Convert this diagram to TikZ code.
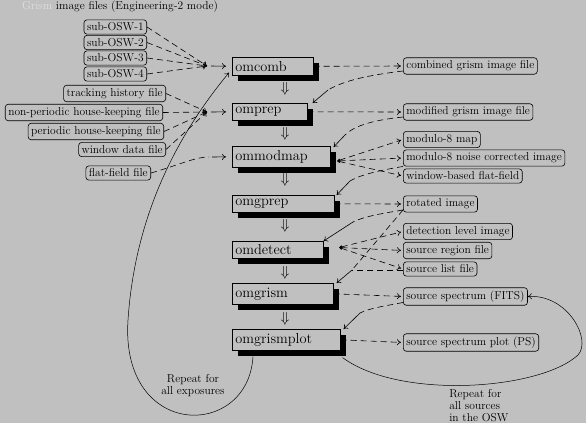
\documentclass[tikz,border=0pt]{standalone}
\usetikzlibrary{shadows,arrows.meta,calc}
\definecolor{bg}{RGB}{192,192,192}
\definecolor{faint}{RGB}{224,224,224}
\begin{document}
\begin{tikzpicture}[x=1pt,y=-1pt,line width=0.6pt,>={To[length=4pt,width=6pt]},
  prog/.style={draw, fill=bg, anchor=north west, inner sep=3pt, align=left,
    font=\fontsize{14.4}{16}\selectfont,
    drop shadow={shadow xshift=6pt, shadow yshift=-6pt, fill=black, opacity=1}},
  filebox/.style={draw, rounded corners=3pt, inner sep=3pt, font=\fontsize{11.5}{13}\selectfont},
  lbl/.style={font=\fontsize{11.5}{12}\selectfont, inner sep=0pt},
  dsh/.style={dash pattern=on 6pt off 4pt},
  flow/.style={inner sep=0pt, font=\fontsize{14.4}{16}\selectfont},
  tail/.style={{Latex[length=3pt,width=3.5pt]}->}
]
\fill[bg] (0,0) rectangle (586,423);
\useasboundingbox (0,0) rectangle (586,423);

% title
\node[lbl] (title) at (120,7) {\textcolor{faint}{Grism} image files (Engineering-2 mode)};

% program nodes
\node[prog, text width=75pt, minimum height=18pt] (omcomb) at (232,57) {omcomb};
\node[prog, text width=69pt, minimum height=17pt] (omprep) at (232,103) {omprep};
\node[prog, text width=92pt, minimum height=21pt] (ommodmap) at (232,146) {ommodmap};
\node[prog, text width=96pt, minimum height=17pt] (omgprep) at (232,195) {omgprep};
\node[prog, text width=85pt, minimum height=17pt] (omdetect) at (232,241) {omdetect};
\node[prog, text width=95pt, minimum height=21pt] (omgrism) at (232,283) {omgrism};
\node[prog, text width=102pt, minimum height=21pt] (omgrismplot) at (232,329) {omgrismplot};

% flow arrows between programs
\node[flow] (d1) at (285,89) {$\Downarrow$};
\node[flow] (d2) at (285,134) {$\Downarrow$};
\node[flow] (d3) at (285,180) {$\Downarrow$};
\node[flow] (d4) at (285,226) {$\Downarrow$};
\node[flow] (d5) at (285,273) {$\Downarrow$};
\node[flow] (d6) at (285,319) {$\Downarrow$};

% left input files
\node[filebox, anchor=east] (s1) at (147,27) {sub-OSW-1};
\node[filebox, anchor=east] (s2) at (147,42.5) {sub-OSW-2};
\node[filebox, anchor=east] (s3) at (147,58) {sub-OSW-3};
\node[filebox, anchor=east] (s4) at (147,74) {sub-OSW-4};
\node[filebox, anchor=east] (track) at (166,93.5) {tracking history file};
\node[filebox, anchor=east] (nonper) at (163,112.5) {non-periodic house-keeping file};
\node[filebox, anchor=east] (per) at (164,131.5) {periodic house-keeping file};
\node[filebox, anchor=east] (win) at (166,149.5) {window data file};
\node[filebox, anchor=east] (flat) at (151,173) {flat-field file};

% right output files
\node[filebox, anchor=west] (cgif) at (403,66) {combined grism image file};
\node[filebox, anchor=west] (mgif) at (403,112) {modified grism image file};
\node[filebox, anchor=west] (m8m) at (403,139.5) {modulo-8 map};
\node[filebox, anchor=west] (mnci) at (403,158) {modulo-8 noise corrected image};
\node[filebox, anchor=west] (wbff) at (403,176) {window-based flat-field};
\node[filebox, anchor=west] (rot) at (403,204) {rotated image};
\node[filebox, anchor=west] (dli) at (403,231.5) {detection level image};
\node[filebox, anchor=west] (srf) at (403,250.5) {source region file};
\node[filebox, anchor=west] (slf) at (403,269) {source list file};
\node[filebox, anchor=west] (fits) at (403,296.5) {source spectrum (FITS)};
\node[filebox, anchor=west] (ps) at (403,342.5) {source spectrum plot (PS)};

% loop labels
\node[lbl, align=center] (rep1) at (193,386) {Repeat for\\all exposures};
\node[lbl, align=left, anchor=north west] (rep2) at (449,389) {Repeat for\\all sources\\in the OSW};

% junction coordinates
\coordinate (j1) at (207,66);
\coordinate (j2) at (207,112);
\coordinate (j3) at (209,157);
\coordinate (k1) at (328,90);
\coordinate (k2) at (345,135);
\coordinate (k3) at (350,181);
\coordinate (k4) at (353,222);
\coordinate (k5) at (352,270);
\coordinate (k6) at (360,313);
\coordinate (jm) at (337,161);
\coordinate (jd) at (339,247.5);

% inputs to omcomb
\foreach \s in {s1,s2,s3,s4} \draw[dsh,->] (\s.east) -- (j1);
\draw[->, shorten >=6pt] ([xshift=4pt]j1) -- (omcomb.west);
% inputs to omprep
\foreach \s in {track,nonper,per,win} \draw[dsh,->] (\s.east) -- (j2);
\draw[->, shorten >=6pt] ([xshift=4pt]j2) -- (omprep.west);
% input to ommodmap
\draw[dsh] (flat.east) .. controls (182,164) and (195,157) .. (j3);
\draw[->, shorten >=6pt] ([xshift=3pt]j3) -- (ommodmap.west);

% outputs and feeds on the right
\draw[dsh,->, shorten >=2pt] (omcomb.east) -- (cgif.west);
\draw[dsh] ([yshift=-5pt]cgif.west) .. controls (370,75) and (345,80) .. (k1);
\draw[->] (k1) -- ([xshift=5pt]omprep.north east);

\draw[dsh,->, shorten >=2pt] (omprep.east) -- (mgif.west);
\draw[dsh] ([yshift=-5pt]mgif.west) .. controls (375,120) and (355,125) .. (k2);
\draw[->] (k2) -- ([xshift=3pt,yshift=-1pt]ommodmap.north east);

\draw[dsh,tail, shorten >=2pt] (jm) -- (m8m.west);
\draw[dsh,tail, shorten >=2pt] (jm) -- (mnci.west);
\draw[dsh,tail, shorten >=2pt] (jm) -- (wbff.west);
\draw[dsh] (mnci.south west) .. controls (382,170) and (362,174) .. (k3);
\draw[->] (k3) -- ([xshift=2pt]omgprep.north east);

\draw[dsh,->, shorten >=2pt] (omgprep.east) -- (rot.west);
\draw[dsh] ([yshift=-6pt]rot.west) .. controls (385,213) and (365,216) .. (k4);
\draw[->] (k4) -- (omdetect.north east);
\draw[dsh] ([yshift=-6pt]rot.west) -- (k5);

\draw[dsh,tail, shorten >=2pt] (jd) -- (dli.west);
\draw[dsh,tail, shorten >=2pt] (jd) -- (srf.west);
\draw[dsh,tail, shorten >=2pt] (jd) -- (slf.west);
\draw[dsh] ([yshift=-1pt]slf.west) -- (k5);
\draw[->] (k5) -- ([xshift=3pt]omgrism.north east);

\draw[dsh,->, shorten >=2pt] (omgrism.east) -- (fits.west);
\draw[dsh] ([yshift=-6pt]fits.west) .. controls (385,306) and (370,308) .. (k6);
\draw[->] (k6) -- ([xshift=3pt]omgrismplot.north east);

\draw[dsh,->, shorten >=2pt] (omgrismplot.east) -- (ps.west);

% loops
\draw[->, line width=0.5pt] ([xshift=21pt,yshift=-6pt]omgrismplot.south west)
  .. controls (248,440) and (120,440) .. (128,320)
  .. controls (136,200) and (190,120) .. ([xshift=-3pt,yshift=3pt]omcomb.south west);
\draw[->, line width=0.5pt] ([xshift=2pt,yshift=-7pt]omgrismplot.south east)
  .. controls (400,400) and (540,390) .. (578,355)
  .. controls (592,340) and (568,294) .. (fits.east);
\end{tikzpicture}
\end{document}
